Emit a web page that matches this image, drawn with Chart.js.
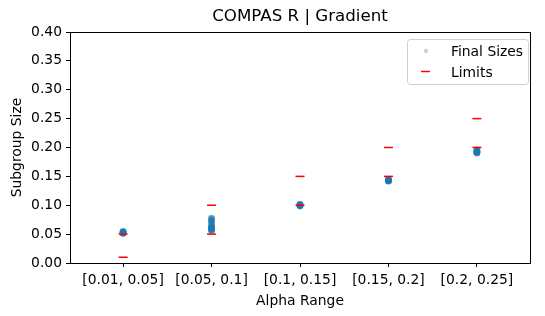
<!DOCTYPE html>
<html>
<head>
<meta charset="utf-8">
<script src="https://cdn.jsdelivr.net/npm/chart.js@4/dist/chart.umd.min.js"></script>
<style>
  html, body { margin: 0; padding: 0; background: #fff; }
  #wrap { width: 545px; height: 316px; }
</style>
</head>
<body>
<div id="wrap"><canvas id="chart" width="545" height="316"></canvas></div>
<script>
var categories = ["[0.01, 0.05]", "[0.05, 0.1]", "[0.1, 0.15]", "[0.15, 0.2]", "[0.2, 0.25]"];
var finalSizes = [
    [0.051, 0.052, 0.053, 0.054, 0.055, 0.052, 0.053, 0.051, 0.054, 0.052, 0.053, 0.052, 0.054, 0.052, 0.051, 0.053, 0.055, 0.052, 0.053, 0.053],
    [0.055, 0.056, 0.057, 0.058, 0.059, 0.060, 0.061, 0.062, 0.063, 0.064, 0.056, 0.058, 0.057, 0.059, 0.061, 0.063, 0.065, 0.066, 0.068, 0.070, 0.071, 0.072, 0.073, 0.074, 0.075, 0.076, 0.077, 0.078, 0.078, 0.060, 0.062],
    [0.099, 0.100, 0.101, 0.100, 0.099, 0.101, 0.100, 0.102, 0.098, 0.100, 0.100, 0.101, 0.099, 0.100, 0.101, 0.100, 0.099, 0.100, 0.101, 0.100],
    [0.142, 0.143, 0.144, 0.145, 0.143, 0.142, 0.144, 0.141, 0.143, 0.144, 0.143, 0.142, 0.144, 0.143, 0.142, 0.143, 0.144, 0.143, 0.142, 0.143],
    [0.190, 0.191, 0.192, 0.193, 0.194, 0.195, 0.196, 0.197, 0.191, 0.193, 0.192, 0.191, 0.190, 0.193, 0.194, 0.192, 0.191, 0.195, 0.193, 0.192]
];
var lowerLimits = [0.01, 0.05, 0.10, 0.15, 0.20];
var upperLimits = [0.05, 0.10, 0.15, 0.20, 0.25];
var yTicks = [0, 0.05, 0.1, 0.15, 0.2, 0.25, 0.3, 0.35, 0.4];
var titleText = "COMPAS R | Gradient";

var pts = [];
for (var i = 0; i < finalSizes.length; i++) {
    for (var j = 0; j < finalSizes[i].length; j++) pts.push({x: i, y: finalSizes[i][j]});
}
var lims = [];
for (var k = 0; k < categories.length; k++) {
    lims.push({x: k, y: lowerLimits[k]});
    lims.push({x: k, y: upperLimits[k]});
}

var font = "'DejaVu Sans', sans-serif";
var blue = "rgba(31,119,180,0.3)";

// frame, title and legend box, drawn the matplotlib way
var frame = {
    id: "frame",
    afterDraw: function(chart) {
        var c = chart.ctx, a = chart.chartArea;
        c.save();
        c.strokeStyle = "#000";
        c.lineWidth = 1;
        c.strokeRect(Math.round(a.left) + 0.5, Math.round(a.top) + 0.5, Math.round(a.right - a.left), Math.round(a.bottom - a.top));

        c.fillStyle = "#000";
        c.font = "16.67px " + font;
        c.textAlign = "center";
        c.textBaseline = "middle";
        c.fillText(titleText, (a.left + a.right) / 2, 17);

        var lx = a.right - 123, ly = a.top + 7, lw = 121, lh = 45;
        c.fillStyle = "rgba(255,255,255,0.8)";
        c.strokeStyle = "#d0d0d0";
        c.beginPath();
        c.roundRect(lx + 0.5, ly + 0.5, lw, lh, 3);
        c.fill();
        c.stroke();

        var ds = chart.data.datasets;
        c.fillStyle = blue;
        c.beginPath();
        c.arc(lx + 19, ly + 12, 2.2, 0, Math.PI * 2);
        c.fill();
        c.strokeStyle = "red";
        c.lineWidth = 1.5;
        c.beginPath();
        c.moveTo(lx + 14, ly + 32.5);
        c.lineTo(lx + 23, ly + 32.5);
        c.stroke();

        c.fillStyle = "#000";
        c.font = "13.89px " + font;
        c.textAlign = "left";
        c.fillText(ds[0].label, lx + 44, ly + 13);
        c.fillText(ds[1].label, lx + 44, ly + 34);
        c.restore();
    }
};

var ctx = document.getElementById("chart").getContext("2d");
var chart = new Chart(ctx, {
    type: "scatter",
    data: {
        datasets: [{
            label: "Final Sizes",
            data: pts,
            order: 2,
            pointStyle: "circle",
            pointRadius: 3.3,
            pointBorderWidth: 0,
            backgroundColor: blue,
            borderColor: blue
        }, {
            label: "Limits",
            data: lims,
            order: 1,
            pointStyle: "line",
            pointRadius: 4.5,
            pointBorderWidth: 1.5,
            backgroundColor: "red",
            borderColor: "red"
        }]
    },
    options: {
        responsive: false,
        animation: false,
        layout: { padding: { left: 4, right: 15, top: 32, bottom: 0 } },
        plugins: {
            legend: { display: false },
            tooltip: { enabled: false }
        },
        scales: {
            x: {
                type: "linear",
                min: -0.6,
                max: 4.6,
                afterBuildTicks: function(ax) {
                    ax.ticks = categories.map(function(c, i) { return {value: i}; });
                },
                afterFit: function(ax) { ax.height = 53; },
                ticks: {
                    color: "#000",
                    font: { family: font, size: 13.89 },
                    padding: 5,
                    maxRotation: 0,
                    callback: function(v) { return categories[v]; }
                },
                grid: { drawOnChartArea: false, tickLength: 4, color: "#000" },
                border: { display: true, color: "#000" },
                title: {
                    display: true,
                    text: "Alpha Range",
                    color: "#000",
                    font: { family: font, size: 13.89 },
                    padding: { top: 2, bottom: 6 }
                }
            },
            y: {
                min: 0,
                max: 0.4,
                afterBuildTicks: function(ax) {
                    ax.ticks = yTicks.map(function(v) { return {value: v}; });
                },
                afterFit: function(ax) { ax.width = 66; },
                ticks: {
                    color: "#000",
                    font: { family: font, size: 13.89 },
                    padding: 4,
                    callback: function(v) { return v.toFixed(2); }
                },
                grid: { drawOnChartArea: false, tickLength: 4, color: "#000" },
                border: { display: true, color: "#000" },
                title: {
                    display: true,
                    text: "Subgroup Size",
                    color: "#000",
                    font: { family: font, size: 13.89 },
                    padding: { top: 5, bottom: 4 }
                }
            }
        }
    },
    plugins: [frame]
});
</script>
</body>
</html>
